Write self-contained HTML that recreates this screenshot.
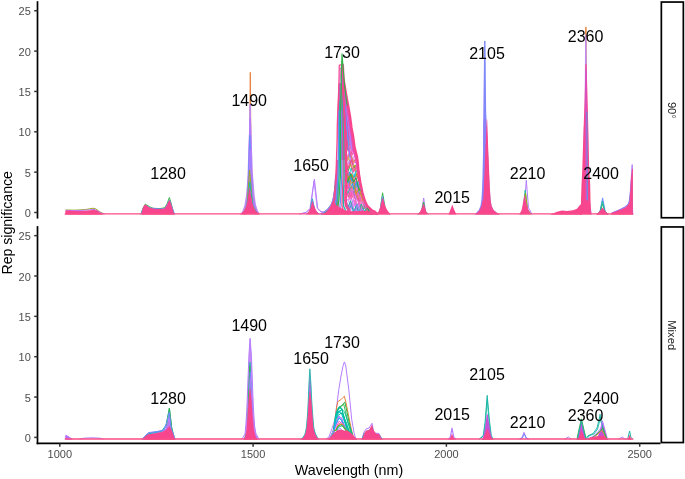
<!DOCTYPE html>
<html><head><meta charset="utf-8"><style>
html,body{margin:0;padding:0;background:#fff;}
svg{display:block;will-change:transform;font-family:"Liberation Sans",sans-serif;}
</style></head><body>
<svg width="685" height="479" viewBox="0 0 685 479">
<rect width="685" height="479" fill="#fff"/>
<path d="M245.00,213.90 L249.20,193.90 L250.30,72.30 L251.30,193.90 L255.00,213.90" fill="none" stroke="#E8823A" stroke-width="1.0" stroke-linejoin="round" stroke-linecap="round"/>
<path d="M240.50,214.00 L242.50,211.00 L244.50,205.00 L246.00,195.00 L246.90,185.00 L247.60,172.00 L248.50,146.00 L249.20,125.00 L250.00,104.30 L250.50,104.30 L251.30,125.00 L251.90,146.00 L252.80,172.00 L253.80,185.00 L254.60,195.00 L256.00,205.00 L258.00,211.00 L260.00,214.00Z" fill="#BE8CF2" stroke="none"/>
<path d="M245.62,213.90 L248.50,194.17 L250.10,104.30 L252.00,194.17 L255.42,213.90" fill="none" stroke="#BE8CF2" stroke-width="1.0" stroke-linejoin="round" stroke-linecap="round"/>
<path d="M244.96,213.90 L248.20,194.72 L250.00,118.00 L252.20,194.72 L256.16,213.90" fill="none" stroke="#B57CFF" stroke-width="1.2" stroke-linejoin="round" stroke-linecap="round"/>
<path d="M244.60,213.90 L247.80,198.12 L249.80,135.00 L252.40,198.12 L256.56,213.90" fill="none" stroke="#6C8CFF" stroke-width="1.0" stroke-linejoin="round" stroke-linecap="round"/>
<path d="M244.06,213.90 L247.90,201.12 L250.30,150.00 L253.10,201.12 L257.58,213.90" fill="none" stroke="#B57CFF" stroke-width="1.0" stroke-linejoin="round" stroke-linecap="round"/>
<path d="M243.35,213.90 L247.10,205.12 L249.60,170.00 L252.60,205.12 L257.10,213.90" fill="none" stroke="#9AA81A" stroke-width="1.0" stroke-linejoin="round" stroke-linecap="round"/>
<path d="M242.80,213.90 L247.00,207.52 L249.80,182.00 L253.00,207.52 L257.80,213.90" fill="none" stroke="#1FB8A8" stroke-width="1.0" stroke-linejoin="round" stroke-linecap="round"/>
<path d="M300.00,213.90 L306.00,212.40 L310.00,208.40 L314.40,179.10 L317.70,208.40 L321.00,211.50 L324.00,212.20 L328.00,209.00 L331.70,203.60" fill="none" stroke="#B57CFF" stroke-width="1.0" stroke-linejoin="round" stroke-linecap="round"/>
<path d="M300.00,213.90 L306.00,212.70 L310.60,208.40 L314.00,181.00 L317.20,208.40 L321.00,212.00 L324.00,212.60 L328.00,210.00 L331.70,205.00" fill="none" stroke="#B57CFF" stroke-width="0.8" stroke-linejoin="round" stroke-linecap="round"/>
<path d="M306.80,213.90 L310.10,210.88 L312.30,198.80 L314.90,210.88 L318.80,213.90" fill="none" stroke="#1FB8A8" stroke-width="1.0" stroke-linejoin="round" stroke-linecap="round"/>
<path d="M307.10,213.90 L310.40,211.22 L312.60,200.50 L315.20,211.22 L319.10,213.90" fill="none" stroke="#6C8CFF" stroke-width="1.0" stroke-linejoin="round" stroke-linecap="round"/>
<path d="M376.88,213.90 L380.00,210.74 L382.60,192.80 L385.60,210.74 L389.20,213.90" fill="none" stroke="#2FB44A" stroke-width="1.0" stroke-linejoin="round" stroke-linecap="round"/>
<path d="M376.78,213.90 L379.90,211.29 L382.50,196.50 L385.50,211.29 L389.10,213.90" fill="none" stroke="#6C8CFF" stroke-width="1.0" stroke-linejoin="round" stroke-linecap="round"/>
<path d="M418.20,213.90 L421.50,211.52 L423.70,198.00 L425.50,211.52 L428.20,213.90" fill="none" stroke="#B57CFF" stroke-width="1.0" stroke-linejoin="round" stroke-linecap="round"/>
<path d="M418.10,213.90 L421.40,212.12 L423.60,202.00 L425.40,212.12 L428.10,213.90" fill="none" stroke="#2FB44A" stroke-width="1.0" stroke-linejoin="round" stroke-linecap="round"/>
<path d="M521.30,213.90 L524.30,207.85 L526.30,180.30 L528.50,207.85 L531.80,213.90" fill="none" stroke="#B57CFF" stroke-width="1.0" stroke-linejoin="round" stroke-linecap="round"/>
<path d="M520.20,213.90 L523.20,209.60 L525.20,190.00 L527.40,209.60 L530.70,213.90" fill="none" stroke="#1FB8A8" stroke-width="1.0" stroke-linejoin="round" stroke-linecap="round"/>
<path d="M520.50,213.90 L523.50,210.14 L525.50,193.00 L527.70,210.14 L531.00,213.90" fill="none" stroke="#9AA81A" stroke-width="1.0" stroke-linejoin="round" stroke-linecap="round"/>
<path d="M582.00,213.90 L585.30,183.90 L585.90,27.00 L586.60,183.90 L590.00,213.90" fill="none" stroke="#E8823A" stroke-width="1.0" stroke-linejoin="round" stroke-linecap="round"/>
<path d="M581.00,213.90 L584.90,183.90 L585.80,35.80 L586.80,183.90 L591.00,213.90" fill="none" stroke="#BE8CF2" stroke-width="1.4" stroke-linejoin="round" stroke-linecap="round"/>
<path d="M580.00,213.90 L582.80,196.00 L583.60,190.00 L584.50,126.00 L585.60,190.00 L588.00,213.90" fill="none" stroke="#6C8CFF" stroke-width="1.2" stroke-linejoin="round" stroke-linecap="round"/>
<path d="M597.60,213.90 L600.10,211.50 L602.60,197.90 L605.20,211.50 L607.80,213.90" fill="none" stroke="#6C8CFF" stroke-width="1.0" stroke-linejoin="round" stroke-linecap="round"/>
<path d="M597.60,213.90 L600.10,212.39 L602.60,203.80 L605.20,212.39 L607.80,213.90" fill="none" stroke="#2FB44A" stroke-width="1.0" stroke-linejoin="round" stroke-linecap="round"/>
<path d="M597.40,213.90 L599.90,211.97 L602.40,201.00 L605.00,211.97 L607.60,213.90" fill="none" stroke="#1FB8A8" stroke-width="1.0" stroke-linejoin="round" stroke-linecap="round"/>
<path d="M612.00,212.90 L618.00,210.40 L624.00,207.40 L628.00,204.40 L629.80,199.90 L631.00,181.90 L632.20,164.60 L632.60,213.90" fill="none" stroke="#B57CFF" stroke-width="1.0" stroke-linejoin="round" stroke-linecap="round"/>
<path d="M612.00,212.90 L620.00,209.90 L626.00,206.90 L629.00,202.90 L630.50,191.90 L632.00,173.90 L632.60,213.90" fill="none" stroke="#6C8CFF" stroke-width="1.0" stroke-linejoin="round" stroke-linecap="round"/>
<path d="M66.00,210.00 L75.00,210.20 L85.00,209.60 L90.00,208.80 L93.00,208.20 L96.00,209.00 L100.00,212.00 L104.00,213.90" fill="none" stroke="#9AA81A" stroke-width="1.0" stroke-linejoin="round" stroke-linecap="round"/>
<path d="M66.00,210.40 L75.00,210.60 L88.00,210.00 L94.00,209.40 L98.00,211.00 L102.00,213.50 L104.00,213.90" fill="none" stroke="#B57CFF" stroke-width="1.0" stroke-linejoin="round" stroke-linecap="round"/>
<path d="M141.00,213.90 L143.00,208.00 L145.30,204.10 L149.00,206.50 L153.00,208.30 L160.00,208.60 L164.50,207.80 L167.00,204.00 L169.40,197.50 L171.00,203.00 L174.00,213.90" fill="none" stroke="#2FB44A" stroke-width="1.0" stroke-linejoin="round" stroke-linecap="round"/>
<path d="M141.00,213.90 L143.00,209.00 L145.50,205.50 L150.00,208.00 L160.00,209.00 L165.00,208.50 L167.50,204.00 L169.60,200.00 L171.50,206.00 L174.50,213.90" fill="none" stroke="#6C8CFF" stroke-width="1.0" stroke-linejoin="round" stroke-linecap="round"/>
<path d="M474.50,214.60 L476.50,212.50 L478.80,210.00 L480.40,206.00 L481.40,200.00 L482.20,187.00 L483.00,154.00 L483.30,113.00 L484.20,41.30 L485.30,41.30 L486.20,113.00 L488.20,154.00 L489.60,187.00 L490.60,200.00 L491.60,206.00 L493.50,210.00 L496.50,212.50 L500.00,214.60Z" fill="#8A80F8" stroke="none"/>
<path d="M484.70,41.30 L484.70,120.00" fill="none" stroke="#7C8CF8" stroke-width="1.2" stroke-linejoin="round" stroke-linecap="round"/>
<path d="M328.00,214.60 L330.00,212.00 L332.00,209.00 L333.50,205.00 L334.50,200.00 L335.20,185.00 L336.40,160.00 L337.10,140.00 L337.30,125.00 L338.00,106.00 L339.00,85.00 L339.20,64.70 L341.90,64.70 L345.50,85.00 L349.50,106.00 L351.80,125.00 L354.00,140.00 L358.00,160.00 L362.00,185.00 L364.00,200.00 L366.00,205.00 L369.00,209.00 L373.00,212.00 L376.00,214.60Z" fill="#FBF4F9" stroke="none"/>
<path d="M345.22,200.56 L348.38,191.90 L351.27,203.71 L354.34,200.13 L356.68,210.83 L359.07,203.02 L362.07,213.90" fill="none" stroke="#F564E3" stroke-width="0.8" stroke-linejoin="round" stroke-linecap="round"/>
<path d="M345.13,197.16 L348.04,208.09 L351.25,198.40 L354.25,206.43 L357.22,197.44 L359.76,207.65 L361.99,200.42 L364.33,208.64 L366.69,205.83 L369.93,213.24 L372.79,211.87 L376.03,213.90" fill="none" stroke="#C77CFF" stroke-width="0.8" stroke-linejoin="round" stroke-linecap="round"/>
<path d="M345.26,183.47 L347.64,178.44 L350.12,189.10 L352.64,185.83 L355.28,198.15 L358.31,191.89 L361.32,200.47 L364.46,200.52 L367.13,209.12 L370.09,209.73 L372.54,213.90" fill="none" stroke="#FF61C3" stroke-width="0.8" stroke-linejoin="round" stroke-linecap="round"/>
<path d="M344.50,138.73 L347.34,129.43 L349.63,137.52 L352.59,134.81 L355.36,151.44 L358.73,174.35 L361.11,187.36 L363.88,198.60 L366.33,211.85 L369.35,209.05 L371.91,213.90" fill="none" stroke="#619CFF" stroke-width="0.8" stroke-linejoin="round" stroke-linecap="round"/>
<path d="M346.32,171.81 L349.44,183.37 L352.04,179.74 L355.42,193.63 L358.60,184.63 L361.42,192.71 L363.66,197.86 L366.69,211.39 L370.01,209.66 L372.65,213.90" fill="none" stroke="#FF61C3" stroke-width="0.8" stroke-linejoin="round" stroke-linecap="round"/>
<path d="M344.91,148.97 L347.68,142.29 L349.99,155.15 L353.12,146.83 L355.54,158.85 L358.70,174.16 L361.38,188.67 L363.79,198.28 L367.07,209.87 L370.26,209.89 L372.88,213.90" fill="none" stroke="#FF61C7" stroke-width="0.8" stroke-linejoin="round" stroke-linecap="round"/>
<path d="M345.95,191.75 L348.78,182.02 L352.03,193.94 L354.53,188.11 L357.44,196.68 L359.79,186.87 L362.54,199.17 L365.25,202.75 L368.09,211.97 L370.81,210.40 L373.97,213.90" fill="none" stroke="#F8468E" stroke-width="0.8" stroke-linejoin="round" stroke-linecap="round"/>
<path d="M345.61,186.49 L348.63,197.15 L351.76,186.64 L354.19,192.73 L356.94,190.71 L359.21,201.41 L362.14,196.35 L364.95,209.02 L367.45,206.98 L370.76,213.90" fill="none" stroke="#6BB100" stroke-width="0.8" stroke-linejoin="round" stroke-linecap="round"/>
<path d="M344.77,194.64 L347.45,189.94 L350.16,197.84 L352.51,190.72 L355.48,199.54 L357.84,194.01 L360.16,206.19 L363.16,202.24 L366.55,211.83 L369.18,208.87 L371.78,213.90" fill="none" stroke="#E84CB8" stroke-width="0.8" stroke-linejoin="round" stroke-linecap="round"/>
<path d="M345.53,162.29 L348.35,171.19 L351.50,160.21 L354.01,168.32 L356.54,164.18 L359.83,180.71 L362.21,192.63 L365.25,202.75 L368.28,207.89 L371.60,213.90" fill="none" stroke="#00B816" stroke-width="0.8" stroke-linejoin="round" stroke-linecap="round"/>
<path d="M344.94,178.18 L348.18,187.87 L351.04,177.69 L353.40,187.60 L355.73,182.12 L358.17,190.72 L361.28,188.21 L363.70,197.99 L366.20,204.78 L369.06,213.03 L372.38,211.68 L375.10,213.90" fill="none" stroke="#F8468E" stroke-width="0.8" stroke-linejoin="round" stroke-linecap="round"/>
<path d="M345.51,162.91 L348.89,158.51 L351.94,169.67 L354.56,165.18 L356.84,176.63 L359.24,177.27 L362.48,193.92 L364.97,202.16 L367.36,211.57 L370.72,210.31 L373.21,213.90" fill="none" stroke="#ADA200" stroke-width="0.8" stroke-linejoin="round" stroke-linecap="round"/>
<path d="M345.17,147.99 L347.94,140.57 L350.75,146.90 L353.05,139.73 L355.28,151.12 L358.18,168.93 L361.17,187.68 L363.84,198.47 L366.22,210.96 L368.47,208.10 L371.42,213.90" fill="none" stroke="#FF61C3" stroke-width="0.8" stroke-linejoin="round" stroke-linecap="round"/>
<path d="M345.55,144.89 L348.74,138.98 L351.76,150.02 L354.00,145.67 L356.32,158.70 L359.28,177.49 L362.06,191.92 L365.16,202.56 L368.15,210.73 L370.65,210.25 L373.73,213.90" fill="none" stroke="#00C0BA" stroke-width="0.8" stroke-linejoin="round" stroke-linecap="round"/>
<path d="M345.27,170.07 L348.56,177.72 L351.52,173.63 L354.12,185.77 L357.06,181.79 L359.84,194.39 L362.30,193.07 L364.85,204.13 L368.24,207.85 L370.54,213.90" fill="none" stroke="#B57CFF" stroke-width="0.8" stroke-linejoin="round" stroke-linecap="round"/>
<path d="M345.51,140.43 L348.91,151.39 L352.22,146.64 L355.32,155.05 L358.24,169.70 L360.58,184.85 L363.83,198.43 L367.17,209.92 L370.24,209.87 L372.59,213.90" fill="none" stroke="#FA62DB" stroke-width="0.8" stroke-linejoin="round" stroke-linecap="round"/>
<path d="M344.74,194.58 L347.80,184.64 L350.44,195.88 L353.35,190.14 L355.88,196.28 L359.08,192.59 L361.58,201.48 L364.01,199.03 L367.27,212.10 L370.57,210.17 L373.63,213.90" fill="none" stroke="#FF61C3" stroke-width="0.8" stroke-linejoin="round" stroke-linecap="round"/>
<path d="M346.01,167.01 L348.79,180.54 L351.19,173.99 L353.70,186.62 L356.39,181.89 L359.39,190.16 L361.68,190.10 L364.54,200.80 L367.65,207.21 L370.14,213.90" fill="none" stroke="#35A2FF" stroke-width="0.8" stroke-linejoin="round" stroke-linecap="round"/>
<path d="M345.02,151.98 L348.28,143.47 L350.98,153.77 L353.58,149.67 L356.95,157.92 L359.90,181.11 L362.43,193.65 L365.16,202.56 L368.41,208.31 L371.46,211.00 L374.36,213.90" fill="none" stroke="#FF61C3" stroke-width="0.8" stroke-linejoin="round" stroke-linecap="round"/>
<path d="M346.15,200.80 L349.52,208.37 L351.90,202.26 L355.23,213.90 L358.35,207.85 L360.60,213.90" fill="none" stroke="#DE70F9" stroke-width="0.8" stroke-linejoin="round" stroke-linecap="round"/>
<path d="M345.11,180.83 L348.06,173.95 L351.18,181.04 L354.51,175.98 L357.66,183.10 L361.05,187.11 L364.26,199.87 L367.12,206.63 L370.10,213.10 L373.36,212.13 L375.83,213.90" fill="none" stroke="#F8468E" stroke-width="0.8" stroke-linejoin="round" stroke-linecap="round"/>
<path d="M345.89,170.00 L348.53,178.29 L351.08,168.08 L353.87,177.28 L356.30,170.32 L359.57,179.20 L362.50,194.01 L365.80,203.92 L369.10,208.79 L372.02,213.90" fill="none" stroke="#00BECE" stroke-width="0.8" stroke-linejoin="round" stroke-linecap="round"/>
<path d="M346.30,162.93 L349.38,178.20 L351.97,175.21 L355.07,182.93 L357.72,176.81 L360.12,183.17 L362.75,194.82 L366.10,204.58 L369.29,208.99 L371.55,213.90" fill="none" stroke="#E84CB8" stroke-width="0.8" stroke-linejoin="round" stroke-linecap="round"/>
<path d="M344.89,200.28 L347.97,211.00 L350.47,203.34 L353.12,213.90 L355.39,208.22 L358.32,213.90 L361.66,211.33 L364.69,213.90" fill="none" stroke="#9590FF" stroke-width="0.8" stroke-linejoin="round" stroke-linecap="round"/>
<path d="M346.33,188.65 L348.56,183.94 L351.91,197.28 L354.41,191.25 L357.73,200.44 L360.81,192.50 L363.74,201.25 L366.37,205.16 L368.81,213.90" fill="none" stroke="#F8468E" stroke-width="0.8" stroke-linejoin="round" stroke-linecap="round"/>
<path d="M344.57,139.60 L346.96,148.40 L349.25,140.15 L351.95,155.49 L354.36,151.44 L357.63,162.79 L360.76,185.71 L363.31,196.70 L365.82,203.96 L368.24,211.96 L371.53,211.06 L374.03,213.90" fill="none" stroke="#FE6E8A" stroke-width="0.8" stroke-linejoin="round" stroke-linecap="round"/>
<path d="M345.81,192.40 L348.13,187.03 L351.34,199.06 L353.89,194.29 L357.26,206.66 L359.90,197.45 L362.42,211.23 L364.74,204.42 L367.20,212.92 L369.65,209.32 L372.63,213.90" fill="none" stroke="#F8468E" stroke-width="0.8" stroke-linejoin="round" stroke-linecap="round"/>
<path d="M345.86,158.23 L348.80,153.28 L351.60,163.39 L354.75,154.71 L357.59,165.97 L360.12,182.37 L362.82,195.06 L366.08,204.53 L369.20,213.90" fill="none" stroke="#EF67EC" stroke-width="0.8" stroke-linejoin="round" stroke-linecap="round"/>
<path d="M344.91,186.69 L347.63,181.43 L349.94,192.07 L353.06,186.82 L355.44,199.15 L358.32,190.38 L360.73,198.80 L363.14,196.12 L366.24,209.58 L368.80,208.46 L372.10,213.90" fill="none" stroke="#B57CFF" stroke-width="0.8" stroke-linejoin="round" stroke-linecap="round"/>
<path d="M344.67,180.18 L347.64,171.55 L350.58,179.84 L353.46,177.86 L355.84,186.33 L359.21,177.11 L362.47,193.86 L365.47,203.23 L368.22,213.90" fill="none" stroke="#F47B5C" stroke-width="0.8" stroke-linejoin="round" stroke-linecap="round"/>
<path d="M345.67,164.83 L348.33,174.41 L350.75,172.84 L353.51,183.33 L356.69,175.40 L359.37,182.45 L362.01,191.65 L365.00,202.20 L368.30,207.91 L370.60,213.90" fill="none" stroke="#F8468E" stroke-width="0.8" stroke-linejoin="round" stroke-linecap="round"/>
<path d="M346.07,181.34 L349.30,172.07 L352.47,181.87 L355.27,173.42 L357.66,187.23 L359.94,182.54 L362.33,195.14 L365.51,203.31 L368.82,211.06 L371.62,211.15 L374.04,213.90" fill="none" stroke="#00BAE0" stroke-width="0.8" stroke-linejoin="round" stroke-linecap="round"/>
<path d="M345.25,158.28 L347.59,169.40 L350.22,160.45 L353.12,172.45 L356.51,164.72 L359.67,179.76 L362.56,194.20 L365.29,203.17 L367.55,207.10 L370.52,213.90" fill="none" stroke="#F8468E" stroke-width="0.8" stroke-linejoin="round" stroke-linecap="round"/>
<path d="M345.13,182.12 L348.22,176.94 L351.17,186.46 L353.43,180.38 L355.68,187.96 L358.25,181.40 L360.94,189.41 L363.58,197.61 L365.80,210.85 L368.54,208.18 L371.54,213.90" fill="none" stroke="#00B0F6" stroke-width="0.8" stroke-linejoin="round" stroke-linecap="round"/>
<path d="M346.14,138.99 L349.06,150.34 L351.88,142.89 L354.08,148.89 L356.50,156.00 L358.83,174.89 L361.26,188.11 L364.23,199.78 L367.17,206.68 L370.12,213.90" fill="none" stroke="#F8468E" stroke-width="0.8" stroke-linejoin="round" stroke-linecap="round"/>
<path d="M345.58,168.93 L348.79,181.04 L351.88,174.06 L354.21,181.30 L356.81,173.64 L360.02,184.92 L362.89,195.29 L365.72,204.58 L369.07,208.75 L371.29,213.90" fill="none" stroke="#D19400" stroke-width="0.8" stroke-linejoin="round" stroke-linecap="round"/>
<path d="M344.82,149.40 L347.25,159.42 L349.90,151.72 L353.28,164.72 L356.05,156.53 L358.28,170.18 L361.54,189.44 L364.44,200.48 L366.68,205.82 L369.08,213.90" fill="none" stroke="#F8468E" stroke-width="0.8" stroke-linejoin="round" stroke-linecap="round"/>
<path d="M344.78,137.19 L347.81,127.73 L350.72,138.23 L353.91,143.64 L357.15,159.35 L359.48,178.65 L361.72,192.52 L364.68,201.26 L367.22,207.75 L370.33,209.95 L373.04,213.90" fill="none" stroke="#A889FF" stroke-width="0.8" stroke-linejoin="round" stroke-linecap="round"/>
<path d="M346.02,138.44 L349.14,149.58 L351.69,142.23 L353.93,151.65 L356.69,156.75 L359.75,180.21 L362.29,193.00 L364.84,203.92 L367.45,206.99 L370.64,213.90" fill="none" stroke="#FF61C3" stroke-width="0.8" stroke-linejoin="round" stroke-linecap="round"/>
<path d="M345.53,202.96 L348.07,199.06 L350.87,207.24 L353.17,199.31 L356.31,210.27 L358.99,205.68 L361.30,213.90" fill="none" stroke="#B983FF" stroke-width="0.8" stroke-linejoin="round" stroke-linecap="round"/>
<path d="M345.36,156.52 L348.01,146.54 L350.76,158.02 L353.87,150.04 L356.46,159.16 L359.45,178.53 L362.18,192.48 L364.53,200.77 L367.02,208.52 L370.06,209.71 L372.45,213.90" fill="none" stroke="#E84CB8" stroke-width="0.8" stroke-linejoin="round" stroke-linecap="round"/>
<path d="M344.82,172.07 L348.17,182.25 L351.56,178.57 L354.00,185.57 L356.56,179.81 L358.89,192.54 L362.15,192.35 L365.38,203.03 L368.76,208.41 L371.26,213.90" fill="none" stroke="#FF62BC" stroke-width="0.8" stroke-linejoin="round" stroke-linecap="round"/>
<path d="M345.36,199.47 L348.58,211.60 L351.83,204.36 L354.30,211.50 L357.02,207.29 L360.30,213.90" fill="none" stroke="#E84CB8" stroke-width="0.8" stroke-linejoin="round" stroke-linecap="round"/>
<path d="M344.81,185.60 L347.59,193.81 L350.41,187.30 L353.69,195.13 L356.89,184.59 L359.39,193.77 L362.73,194.76 L365.95,204.24 L368.72,208.37 L371.36,213.90" fill="none" stroke="#00C1A3" stroke-width="0.8" stroke-linejoin="round" stroke-linecap="round"/>
<path d="M345.87,149.92 L348.69,164.13 L351.62,155.93 L354.28,162.08 L357.58,162.43 L360.48,184.36 L363.16,196.19 L366.55,209.80 L368.95,208.62 L372.10,213.90" fill="none" stroke="#B57CFF" stroke-width="0.8" stroke-linejoin="round" stroke-linecap="round"/>
<path d="M346.13,186.17 L348.75,179.65 L351.93,189.31 L354.79,186.44 L357.42,198.70 L360.07,193.70 L362.49,201.38 L365.03,202.27 L367.80,212.69 L370.79,210.38 L374.02,213.90" fill="none" stroke="#EF7F49" stroke-width="0.8" stroke-linejoin="round" stroke-linecap="round"/>
<path d="M344.78,190.67 L347.74,196.31 L351.08,187.96 L353.40,195.16 L356.54,188.70 L359.82,200.24 L363.09,195.97 L366.09,210.09 L369.30,209.00 L372.14,213.90" fill="none" stroke="#FF61C3" stroke-width="0.8" stroke-linejoin="round" stroke-linecap="round"/>
<path d="M345.61,197.67 L348.31,210.38 L351.18,205.21 L354.22,212.93 L357.14,203.76 L359.73,213.90 L362.28,207.42 L365.68,213.90" fill="none" stroke="#00BCD8" stroke-width="0.8" stroke-linejoin="round" stroke-linecap="round"/>
<path d="M344.56,180.16 L347.58,170.14 L350.95,180.66 L354.23,178.08 L357.18,188.54 L359.82,182.29 L362.95,195.49 L365.65,203.61 L368.20,213.90" fill="none" stroke="#FF61C3" stroke-width="0.8" stroke-linejoin="round" stroke-linecap="round"/>
<path d="M345.04,170.77 L348.41,183.22 L351.01,177.40 L353.91,189.70 L356.16,182.80 L359.02,189.55 L361.22,187.92 L364.15,200.40 L367.45,206.99 L370.40,213.90" fill="none" stroke="#00ACFC" stroke-width="0.8" stroke-linejoin="round" stroke-linecap="round"/>
<path d="M344.58,140.89 L347.53,149.60 L350.77,142.45 L354.09,150.66 L356.46,155.82 L359.69,179.89 L361.91,191.21 L365.21,202.67 L368.40,208.02 L371.44,213.90" fill="none" stroke="#F8468E" stroke-width="0.8" stroke-linejoin="round" stroke-linecap="round"/>
<path d="M345.69,183.28 L348.46,176.20 L351.43,183.64 L353.65,181.16 L356.00,193.68 L359.24,188.34 L362.30,197.73 L364.73,201.43 L367.78,213.90" fill="none" stroke="#D89000" stroke-width="0.8" stroke-linejoin="round" stroke-linecap="round"/>
<path d="M345.61,155.81 L348.37,168.60 L351.72,159.12 L353.94,171.62 L356.24,167.13 L358.64,180.12 L360.91,186.42 L363.64,197.79 L366.79,206.06 L369.75,213.90" fill="none" stroke="#F8468E" stroke-width="0.8" stroke-linejoin="round" stroke-linecap="round"/>
<path d="M346.39,190.82 L348.94,199.67 L351.98,190.37 L354.91,205.21 L357.83,199.84 L361.10,210.03 L364.02,201.68 L366.56,207.98 L369.27,208.97 L372.53,213.90" fill="none" stroke="#FD61D1" stroke-width="0.8" stroke-linejoin="round" stroke-linecap="round"/>
<path d="M346.45,145.44 L349.07,153.19 L352.22,149.54 L355.54,158.50 L358.56,173.32 L361.06,187.15 L363.81,198.37 L366.94,207.24 L370.22,209.85 L372.99,213.90" fill="none" stroke="#F564E3" stroke-width="0.8" stroke-linejoin="round" stroke-linecap="round"/>
<path d="M344.86,148.65 L347.50,159.31 L350.32,153.90 L353.71,162.34 L356.67,156.69 L359.59,179.31 L361.81,190.74 L365.05,202.33 L367.57,207.12 L370.90,213.90" fill="none" stroke="#EA8331" stroke-width="0.8" stroke-linejoin="round" stroke-linecap="round"/>
<path d="M344.58,153.03 L347.97,145.97 L350.21,156.17 L353.00,148.44 L356.23,161.18 L359.28,177.51 L361.76,190.47 L364.57,200.89 L367.21,210.20 L369.62,209.29 L371.89,213.90" fill="none" stroke="#E84CB8" stroke-width="0.8" stroke-linejoin="round" stroke-linecap="round"/>
<path d="M345.02,200.26 L347.28,209.04 L350.61,200.69 L353.52,211.81 L356.11,205.89 L358.89,213.28 L361.26,204.08 L364.32,211.05 L367.63,207.81 L370.87,213.90" fill="none" stroke="#00C08B" stroke-width="0.8" stroke-linejoin="round" stroke-linecap="round"/>
<path d="M346.35,203.01 L349.56,213.90 L352.17,205.07 L355.12,212.24 L357.39,204.40 L359.77,213.90 L362.46,209.12 L365.67,213.90" fill="none" stroke="#B57CFF" stroke-width="0.8" stroke-linejoin="round" stroke-linecap="round"/>
<path d="M345.14,169.86 L347.47,182.38 L350.75,173.84 L353.52,182.11 L355.96,178.04 L359.36,190.31 L361.91,191.18 L364.98,202.17 L367.20,206.72 L369.57,213.90" fill="none" stroke="#00BA38" stroke-width="0.8" stroke-linejoin="round" stroke-linecap="round"/>
<path d="M321.00,214.70 L321.00,213.90 L325.00,211.60 L328.50,208.60 L331.20,205.00 L333.20,199.00 L334.80,188.00 L335.60,175.00 L336.40,160.00 L338.50,160.00 L338.50,214.70Z" fill="#F8468E" stroke="none"/>
<path d="M321.00,213.90 L325.00,211.60 L328.50,208.60 L331.20,205.00 L333.20,199.00 L334.80,188.00 L335.60,175.00" fill="none" stroke="#6C8CFF" stroke-width="1.1" stroke-linejoin="round" stroke-linecap="round"/>
<path d="M322.00,213.90 L326.00,211.20 L329.50,207.50 L332.00,203.50 L334.00,196.00 L335.20,185.00" fill="none" stroke="#1FB8A8" stroke-width="1.1" stroke-linejoin="round" stroke-linecap="round"/>
<path d="M320.00,213.90 L324.50,211.80 L328.00,209.20 L330.60,206.00 L332.60,201.50 L334.30,193.00" fill="none" stroke="#B57CFF" stroke-width="1.0" stroke-linejoin="round" stroke-linecap="round"/>
<path d="M340.50,88.00 L343.00,82.00 L345.20,90.00 L346.60,97.50 L350.00,116.30 L351.50,128.00 L353.00,136.00 L354.50,147.00 L356.00,153.00 L353.50,150.00 L351.00,144.00 L349.00,139.00 L347.50,146.00 L346.50,160.00 L338.00,160.00 L337.30,125.00 L338.00,106.00 L339.00,95.00Z" fill="#F8468E" stroke="none"/>
<path d="M342.50,75.00 L345.00,95.00 L348.50,122.00 L352.00,148.00" fill="none" stroke="#B57CFF" stroke-width="1.1" stroke-linejoin="round" stroke-linecap="round"/>
<path d="M342.50,82.00 L344.50,100.00 L346.50,125.00 L349.00,145.00" fill="none" stroke="#6C8CFF" stroke-width="1.1" stroke-linejoin="round" stroke-linecap="round"/>
<path d="M343.00,75.00 L346.50,100.00 L350.50,128.00 L354.50,152.00" fill="none" stroke="#E84CB8" stroke-width="1.0" stroke-linejoin="round" stroke-linecap="round"/>
<path d="M341.00,75.00 L343.50,108.00 L345.50,135.00 L347.00,150.00" fill="none" stroke="#1FB8A8" stroke-width="1.0" stroke-linejoin="round" stroke-linecap="round"/>
<path d="M341.80,68.00 L346.00,104.00 L349.50,134.00 L351.50,150.00" fill="none" stroke="#B57CFF" stroke-width="1.0" stroke-linejoin="round" stroke-linecap="round"/>
<path d="M341.50,72.00 L345.50,112.00 L348.00,140.00 L350.00,158.00" fill="none" stroke="#6C8CFF" stroke-width="0.9" stroke-linejoin="round" stroke-linecap="round"/>
<path d="M339.00,84.00 L338.00,106.00 L337.30,125.00 L337.10,140.00 L336.00,175.00 L333.80,200.00 L331.20,206.00 L329.00,210.00 L326.00,213.90" fill="none" stroke="#F8468E" stroke-width="1.3" stroke-linejoin="round" stroke-linecap="round"/>
<path d="M339.65,84.00 L339.12,106.00 L338.72,125.00 L338.68,140.00 L337.89,175.00 L336.00,200.00 L334.04,206.00 L332.78,210.00 L329.78,213.90" fill="none" stroke="#6C8CFF" stroke-width="1.3" stroke-linejoin="round" stroke-linecap="round"/>
<path d="M340.08,84.00 L339.86,106.00 L339.67,125.00 L339.74,140.00 L339.15,175.00 L337.46,200.00 L335.94,206.00 L335.30,210.00 L332.30,213.90" fill="none" stroke="#1FB8A8" stroke-width="1.3" stroke-linejoin="round" stroke-linecap="round"/>
<path d="M340.51,84.00 L340.60,106.00 L340.62,125.00 L340.80,140.00 L340.41,175.00 L338.92,200.00 L337.84,206.00 L337.82,210.00 L334.82,213.90" fill="none" stroke="#2FB44A" stroke-width="1.3" stroke-linejoin="round" stroke-linecap="round"/>
<path d="M340.98,84.00 L341.41,106.00 L341.64,125.00 L341.94,140.00 L341.77,175.00 L340.51,200.00 L339.89,206.00 L340.55,210.00 L337.55,213.90" fill="none" stroke="#6C8CFF" stroke-width="1.3" stroke-linejoin="round" stroke-linecap="round"/>
<path d="M341.45,84.00 L342.22,106.00 L342.67,125.00 L343.08,140.00 L343.14,175.00 L342.10,200.00 L341.94,206.00 L343.28,210.00 L340.28,213.90" fill="none" stroke="#F8468E" stroke-width="1.3" stroke-linejoin="round" stroke-linecap="round"/>
<path d="M341.81,84.00 L342.84,106.00 L343.46,125.00 L343.96,140.00 L344.19,175.00 L343.32,200.00 L343.52,206.00 L345.38,210.00 L342.38,213.90" fill="none" stroke="#1FB8A8" stroke-width="1.3" stroke-linejoin="round" stroke-linecap="round"/>
<path d="M342.24,84.00 L343.58,106.00 L344.41,125.00 L345.02,140.00 L345.45,175.00 L344.78,200.00 L345.42,206.00 L347.90,210.00 L344.90,213.90" fill="none" stroke="#F8468E" stroke-width="1.3" stroke-linejoin="round" stroke-linecap="round"/>
<path d="M342.60,84.00 L344.20,106.00 L345.20,125.00 L345.90,140.00 L346.50,175.00 L346.00,200.00 L347.00,206.00 L350.00,210.00 L347.00,213.90" fill="none" stroke="#F8468E" stroke-width="1.3" stroke-linejoin="round" stroke-linecap="round"/>
<path d="M342.00,66.00 L345.50,130.00 L346.50,175.00 L346.00,205.00" fill="none" stroke="#F8468E" stroke-width="1.5" stroke-linejoin="round" stroke-linecap="round"/>
<path d="M341.70,64.70 L342.80,65.00 L343.40,78.80 L346.60,97.50 L350.00,116.30 L351.50,128.00 L353.00,136.00 L354.50,147.00 L356.90,156.60 L357.80,163.00 L358.50,172.00 L360.40,183.00 L362.50,193.00 L364.90,201.00 L367.00,205.50 L369.30,208.00 L372.00,210.50 L374.60,211.70 L377.00,213.90" fill="none" stroke="#F8468E" stroke-width="2.4" stroke-linejoin="round" stroke-linecap="round"/>
<path d="M345.00,98.50 L348.40,117.30 L349.90,129.00 L351.40,137.00 L352.90,148.00 L355.30,157.60 L356.20,164.00" fill="none" stroke="#E84CB8" stroke-width="0.9" stroke-linejoin="round" stroke-linecap="round"/>
<path d="M338.40,110.00 L339.25,65.00 L341.75,65.00 L343.60,82.00 L346.00,98.00" fill="none" stroke="#F8468E" stroke-width="1.2" stroke-linejoin="round" stroke-linecap="round"/>
<path d="M339.80,100.00 L340.20,68.00 L341.30,68.00 L342.80,85.00" fill="none" stroke="#E84CB8" stroke-width="0.9" stroke-linejoin="round" stroke-linecap="round"/>
<path d="M340.80,110.00 L341.40,70.00 L342.00,53.70 L344.50,85.00 L347.00,105.00" fill="none" stroke="#2FB44A" stroke-width="1.1" stroke-linejoin="round" stroke-linecap="round"/>
<path d="M324.00,213.90 L328.00,211.80 L331.00,208.50 L333.00,205.00 L334.50,202.00 L336.00,205.00 L340.00,207.50 L346.00,210.80 L352.00,211.30 L358.00,211.00 L362.00,210.80 L366.00,211.00 L369.50,211.30 L372.50,212.30 L376.00,213.90 L376.00,214.70 L324.00,214.70Z" fill="#F8468E" stroke="none"/>
<path d="M65.30,214.70 L65.30,211.00 L66.00,210.40 L70.00,210.60 L78.00,211.00 L86.00,210.80 L90.00,210.20 L94.00,209.80 L97.00,210.50 L100.00,212.50 L103.00,214.70Z" fill="#F8468E" stroke="none"/>
<path d="M141.30,214.70 L142.50,209.00 L144.00,205.50 L145.30,204.50 L147.00,205.80 L150.00,207.80 L154.00,208.80 L160.00,209.00 L164.50,208.50 L166.50,206.00 L168.20,202.00 L169.40,200.00 L170.60,202.50 L172.50,208.50 L174.30,214.70Z" fill="#F8468E" stroke="none"/>
<path d="M240.00,214.60 L241.50,213.00 L243.80,211.00 L245.60,208.00 L247.00,203.00 L248.20,195.00 L249.30,188.00 L249.70,188.00 L250.90,195.00 L252.40,203.00 L253.90,208.00 L255.80,211.00 L258.30,213.00 L260.00,214.60Z" fill="#F8468E" stroke="none"/>
<path d="M306.50,214.60 L309.00,211.00 L310.80,207.00 L312.30,201.20 L312.60,201.20 L314.40,207.00 L316.50,211.00 L319.00,214.60Z" fill="#F8468E" stroke="none"/>
<path d="M377.00,214.60 L378.80,211.00 L380.30,207.00 L382.40,198.00 L382.70,198.00 L385.60,207.00 L387.80,211.00 L390.50,214.60Z" fill="#F8468E" stroke="none"/>
<path d="M418.30,214.60 L421.50,209.00 L423.50,203.80 L423.80,203.80 L425.30,209.00 L427.50,214.60Z" fill="#F8468E" stroke="none"/>
<path d="M448.50,214.60 L450.30,210.00 L452.10,205.00 L452.40,205.00 L454.30,210.00 L456.50,214.60Z" fill="#F8468E" stroke="none"/>
<path d="M475.50,214.60 L477.50,212.50 L479.80,210.00 L481.50,206.00 L482.60,200.00 L483.80,187.00 L485.20,154.00 L486.80,119.40 L487.20,119.40 L488.40,154.00 L489.80,187.00 L490.60,200.00 L491.60,206.00 L493.50,210.00 L496.50,212.50 L500.00,214.60Z" fill="#F8468E" stroke="none"/>
<path d="M519.50,214.60 L521.60,210.00 L522.80,204.00 L524.30,195.30 L524.60,195.30 L526.60,204.00 L528.50,210.00 L531.00,214.60Z" fill="#F8468E" stroke="none"/>
<path d="M580.00,214.60 L580.50,212.70 L580.80,208.00 L581.00,200.00 L581.50,185.00 L582.30,169.00 L583.20,140.00 L584.60,100.00 L585.50,64.20 L586.60,64.20 L587.60,100.00 L588.60,140.00 L589.20,169.00 L590.20,185.00 L590.50,200.00 L590.80,208.00 L591.20,212.70 L591.60,214.60Z" fill="#F8468E" stroke="none"/>
<path d="M550.00,214.70 L557.00,211.80 L562.00,210.60 L567.00,210.90 L573.00,210.20 L577.00,208.80 L579.50,205.50 L581.20,204.00 L582.00,214.70Z" fill="#F8468E" stroke="none"/>
<path d="M596.00,214.70 L599.00,212.00 L602.60,207.50 L606.00,212.00 L609.00,214.70Z" fill="#F8468E" stroke="none"/>
<path d="M610.00,214.70 L612.00,212.80 L618.00,210.50 L622.00,209.00 L625.60,207.30 L628.00,205.00 L629.40,202.20 L630.30,190.00 L631.00,178.00 L632.00,169.00 L632.90,169.00 L632.90,214.70Z" fill="#F8468E" stroke="none"/>
<path d="M585.90,70.00 L586.00,140.00 L586.30,200.00" fill="none" stroke="#C45AE6" stroke-width="1.0" stroke-linejoin="round" stroke-linecap="round"/>
<path d="M586.90,112.00 L587.10,150.00 L587.40,200.00" fill="none" stroke="#4C9BF0" stroke-width="0.9" stroke-linejoin="round" stroke-linecap="round"/>
<path d="M484.00,120.00 L483.80,170.00 L482.80,200.00" fill="none" stroke="#8A80F8" stroke-width="1.0" stroke-linejoin="round" stroke-linecap="round"/>
<path d="M65.30,213.90 L632.80,213.90" fill="none" stroke="#FB4C84" stroke-width="1.4" stroke-linejoin="round" stroke-linecap="round"/>
<path d="M65.30,439.80 L65.30,436.20 L66.00,435.00 L68.00,436.30 L70.00,437.80 L72.30,439.80Z" fill="#B070F5" stroke="none"/>
<path d="M65.30,437.00 L66.00,435.30 L68.00,436.50 L72.30,439.00" fill="none" stroke="#B57CFF" stroke-width="1.0" stroke-linejoin="round" stroke-linecap="round"/>
<path d="M80.00,439.00 L84.00,438.20 L92.00,437.80 L100.00,438.20 L103.00,439.00" fill="none" stroke="#B57CFF" stroke-width="1.0" stroke-linejoin="round" stroke-linecap="round"/>
<path d="M142.90,439.80 L146.00,435.50 L148.30,433.40 L155.00,432.40 L162.00,431.00 L165.50,428.50 L167.50,423.00 L169.40,416.00 L171.00,424.00 L173.00,433.00 L174.80,439.80Z" fill="#B77AF2" stroke="none"/>
<path d="M142.50,439.00 L145.00,436.00 L148.30,433.00 L155.00,432.00 L162.00,430.50 L166.00,427.00 L169.40,415.30 L171.50,428.00 L174.80,439.00" fill="none" stroke="#B57CFF" stroke-width="1.0" stroke-linejoin="round" stroke-linecap="round"/>
<path d="M142.50,439.00 L145.00,436.50 L148.30,434.00 L155.00,432.50 L162.00,431.00 L166.00,425.00 L169.40,408.20 L171.50,427.00 L174.80,439.00" fill="none" stroke="#1FB8A8" stroke-width="1.0" stroke-linejoin="round" stroke-linecap="round"/>
<path d="M166.50,425.00 L169.40,408.20 L172.00,430.00" fill="none" stroke="#2FB44A" stroke-width="1.0" stroke-linejoin="round" stroke-linecap="round"/>
<path d="M142.50,439.00 L146.00,435.00 L149.00,432.50 L158.00,431.50 L164.00,430.00 L167.00,422.00 L169.30,412.00 L171.50,430.00 L174.80,439.00" fill="none" stroke="#6C8CFF" stroke-width="1.0" stroke-linejoin="round" stroke-linecap="round"/>
<path d="M243.50,439.80 L245.00,434.00 L245.80,426.00 L246.80,410.00 L247.60,390.00 L248.50,366.00 L249.00,354.00 L249.90,338.40 L250.40,338.40 L251.30,354.00 L251.80,366.00 L252.70,390.00 L253.50,410.00 L254.60,426.00 L256.00,434.00 L258.50,439.80Z" fill="#C98EF2" stroke="none"/>
<path d="M242.00,439.00 L245.00,434.00 L245.80,426.00 L246.80,410.00 L247.60,390.00 L248.50,366.00 L249.00,354.00 L250.10,338.40 L251.30,354.00 L251.80,366.00 L252.70,390.00 L253.50,410.00 L254.60,426.00 L256.00,434.00 L259.00,439.00" fill="none" stroke="#B57CFF" stroke-width="1.0" stroke-linejoin="round" stroke-linecap="round"/>
<path d="M245.20,439.00 L248.00,429.81 L250.00,362.40 L252.30,429.81 L255.52,439.00" fill="none" stroke="#1FB8A8" stroke-width="1.0" stroke-linejoin="round" stroke-linecap="round"/>
<path d="M244.66,439.00 L247.60,430.24 L249.70,366.00 L252.10,430.24 L255.46,439.00" fill="none" stroke="#2FB44A" stroke-width="1.0" stroke-linejoin="round" stroke-linecap="round"/>
<path d="M245.02,439.00 L248.10,430.96 L250.30,372.00 L253.10,430.96 L257.02,439.00" fill="none" stroke="#6C8CFF" stroke-width="1.0" stroke-linejoin="round" stroke-linecap="round"/>
<path d="M244.88,439.00 L248.10,431.68 L250.40,378.00 L253.40,431.68 L257.60,439.00" fill="none" stroke="#B57CFF" stroke-width="1.0" stroke-linejoin="round" stroke-linecap="round"/>
<path d="M301.00,439.80 L303.00,437.50 L305.00,434.00 L306.30,428.00 L307.50,415.00 L308.30,400.00 L308.90,385.00 L309.70,369.40 L310.10,369.40 L311.00,385.00 L311.70,400.00 L312.70,415.00 L313.80,428.00 L315.50,434.00 L317.50,437.50 L319.00,439.80Z" fill="#B86CE8" stroke="none"/>
<path d="M301.00,439.00 L303.00,437.50 L305.00,434.00 L306.30,428.00 L307.50,415.00 L308.30,400.00 L308.90,385.00 L309.80,368.80 L311.00,385.00 L311.70,400.00 L312.70,415.00 L313.80,428.00 L315.50,434.00 L317.50,437.50 L319.00,439.00" fill="none" stroke="#1FB8A8" stroke-width="0.9" stroke-linejoin="round" stroke-linecap="round"/>
<path d="M326.00,439.00 L329.00,437.00 L332.00,428.50 L335.00,419.40 L337.00,404.00 L338.80,389.70 L341.00,376.00 L343.00,366.00 L344.40,361.90 L345.80,366.00 L347.20,377.00 L348.80,389.70 L350.30,405.00 L351.70,419.40 L354.00,432.50 L355.70,438.50 L357.00,439.00" fill="none" stroke="#B57CFF" stroke-width="1.0" stroke-linejoin="round" stroke-linecap="round"/>
<path d="M330.00,439.00 L333.00,432.00 L335.00,420.00 L336.50,408.00 L337.90,401.60 L341.00,399.50 L343.00,397.50 L344.40,396.20 L346.50,405.00 L349.00,418.00 L351.50,430.00 L353.70,438.00 L355.00,439.00" fill="none" stroke="#E8823A" stroke-width="1.0" stroke-linejoin="round" stroke-linecap="round"/>
<path d="M330.00,439.00 L333.00,433.00 L335.50,420.00 L337.50,410.00 L340.00,407.00 L342.50,405.00 L344.80,402.00 L347.00,412.00 L349.50,424.00 L352.50,436.00 L355.00,439.00" fill="none" stroke="#2FB44A" stroke-width="1.0" stroke-linejoin="round" stroke-linecap="round"/>
<path d="M330.50,439.00 L333.50,432.00 L335.80,419.00 L337.80,409.00 L340.00,406.50 L342.00,405.50 L343.80,404.50 L346.00,414.00 L349.00,426.00 L352.00,437.00 L354.50,439.00" fill="none" stroke="#2FB44A" stroke-width="0.9" stroke-linejoin="round" stroke-linecap="round"/>
<path d="M330.82,439.00 L333.50,433.00 L335.52,414.84 L338.00,408.55 L339.34,406.55 L341.84,408.35 L344.61,421.15 L348.20,432.51 L353.93,439.00" fill="none" stroke="#00C095" stroke-width="1.0" stroke-linejoin="round" stroke-linecap="round"/>
<path d="M329.17,439.00 L333.50,432.80 L335.91,416.31 L338.00,410.32 L339.39,408.32 L341.89,408.98 L344.93,422.13 L348.30,432.86 L353.53,439.00" fill="none" stroke="#00C1A9" stroke-width="1.0" stroke-linejoin="round" stroke-linecap="round"/>
<path d="M329.40,439.00 L333.50,432.60 L335.37,418.65 L338.00,411.72 L342.15,409.72 L344.65,411.98 L347.97,422.89 L352.10,433.14 L352.14,439.00" fill="none" stroke="#00C19F" stroke-width="1.0" stroke-linejoin="round" stroke-linecap="round"/>
<path d="M330.73,439.00 L333.50,432.40 L335.79,417.38 L338.00,413.32 L340.01,411.32 L342.51,414.42 L346.83,423.78 L349.46,433.46 L354.18,439.00" fill="none" stroke="#00C0BC" stroke-width="1.0" stroke-linejoin="round" stroke-linecap="round"/>
<path d="M329.73,439.00 L333.50,432.20 L335.46,419.12 L338.00,413.63 L339.34,411.63 L341.84,414.69 L345.53,423.95 L347.85,433.53 L353.30,439.00" fill="none" stroke="#00BECD" stroke-width="1.0" stroke-linejoin="round" stroke-linecap="round"/>
<path d="M330.43,439.00 L333.50,432.00 L336.12,422.85 L338.00,415.39 L340.82,413.39 L343.32,414.18 L346.46,424.92 L350.74,433.88 L352.95,439.00" fill="none" stroke="#00C08B" stroke-width="1.0" stroke-linejoin="round" stroke-linecap="round"/>
<path d="M330.91,439.00 L333.50,431.80 L335.79,423.46 L338.00,417.40 L338.78,415.40 L341.28,418.60 L344.84,426.02 L348.35,434.28 L352.05,439.00" fill="none" stroke="#7A97FF" stroke-width="1.0" stroke-linejoin="round" stroke-linecap="round"/>
<path d="M329.21,439.00 L333.50,431.60 L335.55,426.50 L338.00,419.23 L339.51,417.23 L342.01,418.22 L344.57,427.03 L348.20,434.65 L353.75,439.00" fill="none" stroke="#BB81FF" stroke-width="1.0" stroke-linejoin="round" stroke-linecap="round"/>
<path d="M330.15,439.00 L333.50,431.40 L335.82,425.90 L338.00,419.09 L338.58,417.09 L341.08,419.41 L343.79,426.95 L348.82,434.62 L353.79,439.00" fill="none" stroke="#E36EF6" stroke-width="1.0" stroke-linejoin="round" stroke-linecap="round"/>
<path d="M330.00,439.00 L333.50,431.20 L335.58,424.68 L338.00,420.19 L339.05,418.19 L341.55,420.17 L344.87,427.55 L347.83,434.84 L353.48,439.00" fill="none" stroke="#00B1F5" stroke-width="1.0" stroke-linejoin="round" stroke-linecap="round"/>
<path d="M330.49,439.00 L333.50,431.00 L335.46,430.53 L338.00,423.22 L339.16,421.22 L341.66,423.46 L346.04,429.22 L348.44,435.44 L353.05,439.00" fill="none" stroke="#FF61CC" stroke-width="1.0" stroke-linejoin="round" stroke-linecap="round"/>
<path d="M330.88,439.00 L333.50,430.80 L336.08,429.93 L338.00,424.58 L340.87,422.58 L343.37,424.25 L346.35,429.97 L350.04,435.72 L353.09,439.00" fill="none" stroke="#FF62BA" stroke-width="1.0" stroke-linejoin="round" stroke-linecap="round"/>
<path d="M330.63,439.00 L333.50,430.60 L336.15,430.48 L338.00,426.26 L342.12,424.26 L344.62,427.58 L348.15,430.89 L352.54,436.05 L354.34,439.00" fill="none" stroke="#DE8C00" stroke-width="1.0" stroke-linejoin="round" stroke-linecap="round"/>
<path d="M329.73,439.00 L333.50,430.40 L335.83,430.48 L338.00,426.20 L340.40,424.20 L342.90,426.62 L346.27,430.86 L349.91,436.04 L352.05,439.00" fill="none" stroke="#49B500" stroke-width="1.0" stroke-linejoin="round" stroke-linecap="round"/>
<path d="M330.87,439.00 L333.50,430.20 L335.93,434.62 L338.00,427.38 L342.86,425.38 L345.36,428.26 L349.63,431.51 L353.13,436.28 L352.09,439.00" fill="none" stroke="#00C0B3" stroke-width="1.0" stroke-linejoin="round" stroke-linecap="round"/>
<path d="M329.55,439.00 L333.50,430.00 L335.84,437.48 L338.00,429.78 L339.70,427.78 L342.20,430.35 L345.94,432.83 L348.70,436.76 L353.30,439.00" fill="none" stroke="#9F8CFF" stroke-width="1.0" stroke-linejoin="round" stroke-linecap="round"/>
<path d="M362.00,439.00 L364.00,432.00 L366.00,429.00 L369.00,428.00 L372.00,423.30 L374.00,433.00 L379.00,433.50 L382.00,439.00" fill="none" stroke="#B57CFF" stroke-width="1.0" stroke-linejoin="round" stroke-linecap="round"/>
<path d="M362.00,439.00 L364.50,433.00 L367.00,431.00 L370.00,430.00 L372.00,427.00 L374.00,434.00 L379.00,435.00 L382.00,439.00" fill="none" stroke="#1FB8A8" stroke-width="1.0" stroke-linejoin="round" stroke-linecap="round"/>
<path d="M448.60,439.00 L450.30,437.38 L452.00,428.20 L453.80,437.38 L455.60,439.00" fill="none" stroke="#B57CFF" stroke-width="1.2" stroke-linejoin="round" stroke-linecap="round"/>
<path d="M479.30,439.00 L483.20,435.60 L485.00,422.60 L485.90,411.70 L487.20,395.40 L488.60,411.70 L489.70,422.60 L491.30,435.60 L493.00,439.00" fill="none" stroke="#1FB8A8" stroke-width="1.0" stroke-linejoin="round" stroke-linecap="round"/>
<path d="M480.00,439.00 L483.80,435.60 L485.50,422.60 L486.30,411.70 L487.30,399.00 L488.20,411.70 L489.20,422.60 L490.80,435.60 L492.50,439.00" fill="none" stroke="#1FB8A8" stroke-width="0.9" stroke-linejoin="round" stroke-linecap="round"/>
<path d="M482.00,439.80 L484.00,434.00 L485.00,428.00 L486.00,420.00 L486.90,413.90 L487.60,413.90 L488.60,420.00 L489.80,428.00 L490.80,434.00 L492.60,439.80Z" fill="#C452D8" stroke="none"/>
<path d="M520.00,439.00 L522.00,437.68 L524.00,432.40 L526.00,437.68 L528.00,439.00" fill="none" stroke="#B57CFF" stroke-width="1.1" stroke-linejoin="round" stroke-linecap="round"/>
<path d="M520.30,439.00 L522.30,438.00 L524.30,434.00 L526.30,438.00 L528.30,439.00" fill="none" stroke="#6C8CFF" stroke-width="1.0" stroke-linejoin="round" stroke-linecap="round"/>
<path d="M577.00,439.80 L578.20,434.00 L579.30,428.00 L581.20,419.00 L581.70,419.00 L583.50,428.00 L585.00,434.00 L586.40,439.80Z" fill="#C452D8" stroke="none"/>
<path d="M577.00,439.00 L579.30,428.00 L581.40,418.90 L583.50,428.00 L586.20,439.00" fill="none" stroke="#2FB44A" stroke-width="1.0" stroke-linejoin="round" stroke-linecap="round"/>
<path d="M577.50,439.00 L579.60,429.00 L581.30,421.00 L583.20,429.00 L585.80,439.00" fill="none" stroke="#1FB8A8" stroke-width="0.9" stroke-linejoin="round" stroke-linecap="round"/>
<path d="M596.00,439.80 L598.80,434.00 L600.60,428.00 L602.20,420.80 L602.60,420.80 L604.50,428.00 L606.20,434.00 L607.60,439.80Z" fill="#C452D8" stroke="none"/>
<path d="M586.00,439.00 L587.70,435.90 L593.10,433.50 L597.00,428.00 L598.90,420.40 L600.10,414.30 L600.90,420.40 L603.20,430.50 L605.50,437.40 L606.50,439.00" fill="none" stroke="#1FB8A8" stroke-width="1.0" stroke-linejoin="round" stroke-linecap="round"/>
<path d="M587.00,439.00 L589.00,435.90 L594.00,434.00 L597.60,429.00 L599.40,422.00 L600.40,417.00 L601.20,422.00 L603.60,431.00 L605.80,437.60 L606.80,439.00" fill="none" stroke="#1FB8A8" stroke-width="0.9" stroke-linejoin="round" stroke-linecap="round"/>
<path d="M588.00,439.00 L593.00,436.50 L598.00,432.00 L600.90,428.10 L602.40,420.80 L605.10,430.50 L607.00,437.40 L608.00,439.00" fill="none" stroke="#B57CFF" stroke-width="1.0" stroke-linejoin="round" stroke-linecap="round"/>
<path d="M592.00,439.00 L598.00,434.00 L601.60,429.70 L604.00,434.00 L606.50,439.00" fill="none" stroke="#E8823A" stroke-width="1.0" stroke-linejoin="round" stroke-linecap="round"/>
<path d="M590.00,439.00 L596.00,435.00 L600.00,431.00 L603.00,428.00 L605.00,434.00 L607.00,439.00" fill="none" stroke="#2FB44A" stroke-width="0.9" stroke-linejoin="round" stroke-linecap="round"/>
<path d="M626.60,439.00 L628.10,437.40 L629.60,431.00 L631.00,437.40 L632.40,439.00" fill="none" stroke="#1FB8A8" stroke-width="1.0" stroke-linejoin="round" stroke-linecap="round"/>
<path d="M565.00,439.00 L568.50,437.00 L571.00,439.00" fill="none" stroke="#B57CFF" stroke-width="1.0" stroke-linejoin="round" stroke-linecap="round"/>
<path d="M619.00,439.00 L622.30,437.00 L625.00,439.00" fill="none" stroke="#B57CFF" stroke-width="1.0" stroke-linejoin="round" stroke-linecap="round"/>
<path d="M142.90,439.80 L145.00,436.50 L148.30,434.20 L155.00,433.50 L162.00,432.00 L166.00,430.00 L168.50,427.00 L169.40,426.20 L171.00,428.50 L173.50,435.00 L175.00,439.80Z" fill="#F8468E" stroke="none"/>
<path d="M244.00,439.80 L245.50,436.00 L246.50,430.00 L247.60,415.00 L248.60,400.00 L249.60,388.80 L250.40,388.80 L251.60,400.00 L252.60,415.00 L254.00,430.00 L255.50,436.00 L257.50,439.80Z" fill="#F8468E" stroke="none"/>
<path d="M301.50,439.80 L303.50,437.50 L305.40,434.00 L306.70,428.00 L307.80,415.00 L308.70,400.00 L309.70,392.00 L310.10,392.00 L311.30,400.00 L312.40,415.00 L313.40,428.00 L315.00,434.00 L317.00,437.50 L318.50,439.80Z" fill="#F8468E" stroke="none"/>
<path d="M327.00,439.80 L331.00,436.50 L334.00,433.00 L337.00,430.50 L340.00,429.60 L344.00,430.50 L348.00,431.00 L351.00,433.00 L354.00,436.00 L357.00,439.80Z" fill="#F8468E" stroke="none"/>
<path d="M362.00,439.80 L364.00,434.00 L366.00,430.50 L369.00,430.00 L371.00,426.50 L372.00,424.50 L373.50,430.00 L376.00,433.50 L379.00,434.00 L381.90,439.80Z" fill="#F8468E" stroke="none"/>
<path d="M449.50,439.80 L451.90,434.00 L452.20,434.00 L454.50,439.80Z" fill="#F8468E" stroke="none"/>
<path d="M482.50,439.80 L484.00,437.00 L485.30,434.00 L486.60,429.50 L487.80,429.50 L489.60,434.00 L491.00,437.00 L492.50,439.80Z" fill="#F8468E" stroke="none"/>
<path d="M578.00,439.80 L579.80,435.00 L581.00,431.00 L581.90,431.00 L583.30,435.00 L585.60,439.80Z" fill="#F8468E" stroke="none"/>
<path d="M586.00,439.80 L590.00,437.40 L595.00,436.60 L599.00,436.00 L602.00,435.40 L605.00,436.20 L607.50,439.80Z" fill="#F8468E" stroke="none"/>
<path d="M627.50,439.80 L629.50,435.00 L629.80,435.00 L631.50,439.80Z" fill="#F8468E" stroke="none"/>
<path d="M65.30,439.00 L632.80,439.00" fill="none" stroke="#FB4C84" stroke-width="1.4" stroke-linejoin="round" stroke-linecap="round"/>
<line x1="37.5" y1="1.2" x2="37.5" y2="218.6" stroke="#000" stroke-width="1.7"/>
<line x1="34.2" y1="212.50" x2="37.5" y2="212.50" stroke="#333" stroke-width="1.5"/>
<text x="30.8" y="217.04" text-anchor="end" font-size="11.0" fill="#4d4d4d">0</text>
<line x1="34.2" y1="172.15" x2="37.5" y2="172.15" stroke="#333" stroke-width="1.5"/>
<text x="30.8" y="176.69" text-anchor="end" font-size="11.0" fill="#4d4d4d">5</text>
<line x1="34.2" y1="131.80" x2="37.5" y2="131.80" stroke="#333" stroke-width="1.5"/>
<text x="30.8" y="136.34" text-anchor="end" font-size="11.0" fill="#4d4d4d">10</text>
<line x1="34.2" y1="91.45" x2="37.5" y2="91.45" stroke="#333" stroke-width="1.5"/>
<text x="30.8" y="95.99" text-anchor="end" font-size="11.0" fill="#4d4d4d">15</text>
<line x1="34.2" y1="51.10" x2="37.5" y2="51.10" stroke="#333" stroke-width="1.5"/>
<text x="30.8" y="55.64" text-anchor="end" font-size="11.0" fill="#4d4d4d">20</text>
<line x1="34.2" y1="10.75" x2="37.5" y2="10.75" stroke="#333" stroke-width="1.5"/>
<text x="30.8" y="15.29" text-anchor="end" font-size="11.0" fill="#4d4d4d">25</text>
<line x1="37.5" y1="226.1" x2="37.5" y2="444.25" stroke="#000" stroke-width="1.7"/>
<line x1="34.2" y1="437.40" x2="37.5" y2="437.40" stroke="#333" stroke-width="1.5"/>
<text x="30.8" y="441.94" text-anchor="end" font-size="11.0" fill="#4d4d4d">0</text>
<line x1="34.2" y1="397.05" x2="37.5" y2="397.05" stroke="#333" stroke-width="1.5"/>
<text x="30.8" y="401.59" text-anchor="end" font-size="11.0" fill="#4d4d4d">5</text>
<line x1="34.2" y1="356.70" x2="37.5" y2="356.70" stroke="#333" stroke-width="1.5"/>
<text x="30.8" y="361.24" text-anchor="end" font-size="11.0" fill="#4d4d4d">10</text>
<line x1="34.2" y1="316.35" x2="37.5" y2="316.35" stroke="#333" stroke-width="1.5"/>
<text x="30.8" y="320.89" text-anchor="end" font-size="11.0" fill="#4d4d4d">15</text>
<line x1="34.2" y1="276.00" x2="37.5" y2="276.00" stroke="#333" stroke-width="1.5"/>
<text x="30.8" y="280.54" text-anchor="end" font-size="11.0" fill="#4d4d4d">20</text>
<line x1="34.2" y1="235.65" x2="37.5" y2="235.65" stroke="#333" stroke-width="1.5"/>
<text x="30.8" y="240.19" text-anchor="end" font-size="11.0" fill="#4d4d4d">25</text>
<line x1="36.65" y1="443.4" x2="660.5" y2="443.4" stroke="#000" stroke-width="1.7"/>
<line x1="59.80" y1="443.4" x2="59.80" y2="446.7" stroke="#333" stroke-width="1.5"/>
<text x="59.80" y="458.48" text-anchor="middle" font-size="11.0" fill="#4d4d4d">1000</text>
<line x1="253.10" y1="443.4" x2="253.10" y2="446.7" stroke="#333" stroke-width="1.5"/>
<text x="253.10" y="458.48" text-anchor="middle" font-size="11.0" fill="#4d4d4d">1500</text>
<line x1="446.40" y1="443.4" x2="446.40" y2="446.7" stroke="#333" stroke-width="1.5"/>
<text x="446.40" y="458.48" text-anchor="middle" font-size="11.0" fill="#4d4d4d">2000</text>
<line x1="639.70" y1="443.4" x2="639.70" y2="446.7" stroke="#333" stroke-width="1.5"/>
<text x="639.70" y="458.48" text-anchor="middle" font-size="11.0" fill="#4d4d4d">2500</text>
<text x="349" y="474.8" text-anchor="middle" font-size="14.3" fill="#000">Wavelength (nm)</text>
<text transform="translate(11.7,222.8) rotate(-90)" text-anchor="middle" font-size="14.1" fill="#000">Rep significance</text>
<rect x="661.35" y="2.05" width="22.000000000000046" height="215.70000000000002" fill="#fff" stroke="#000" stroke-width="1.7"/>
<text transform="translate(668.0,110.35) rotate(90)" text-anchor="middle" font-size="11.2" fill="#1a1a1a">90°</text>
<rect x="661.35" y="226.95" width="22.000000000000046" height="215.6" fill="#fff" stroke="#000" stroke-width="1.7"/>
<text transform="translate(668.0,335.20) rotate(90)" text-anchor="middle" font-size="11.2" fill="#1a1a1a">Mixed</text>
<text x="168.05" y="179.36" text-anchor="middle" font-size="16.0" fill="#000">1280</text>
<text x="249.23" y="105.96" text-anchor="middle" font-size="16.0" fill="#000">1490</text>
<text x="311.09" y="171.46" text-anchor="middle" font-size="16.0" fill="#000">1650</text>
<text x="342.02" y="57.96" text-anchor="middle" font-size="16.0" fill="#000">1730</text>
<text x="452.20" y="203.36" text-anchor="middle" font-size="16.0" fill="#000">2015</text>
<text x="486.99" y="58.66" text-anchor="middle" font-size="16.0" fill="#000">2105</text>
<text x="527.59" y="179.26" text-anchor="middle" font-size="16.0" fill="#000">2210</text>
<text x="585.58" y="42.26" text-anchor="middle" font-size="16.0" fill="#000">2360</text>
<text x="601.04" y="179.26" text-anchor="middle" font-size="16.0" fill="#000">2400</text>
<text x="168.05" y="404.16" text-anchor="middle" font-size="16.0" fill="#000">1280</text>
<text x="249.23" y="330.76" text-anchor="middle" font-size="16.0" fill="#000">1490</text>
<text x="311.09" y="363.96" text-anchor="middle" font-size="16.0" fill="#000">1650</text>
<text x="342.02" y="347.96" text-anchor="middle" font-size="16.0" fill="#000">1730</text>
<text x="452.20" y="419.86" text-anchor="middle" font-size="16.0" fill="#000">2015</text>
<text x="486.99" y="379.96" text-anchor="middle" font-size="16.0" fill="#000">2105</text>
<text x="527.59" y="428.36" text-anchor="middle" font-size="16.0" fill="#000">2210</text>
<text x="585.58" y="420.56" text-anchor="middle" font-size="16.0" fill="#000">2360</text>
<text x="601.04" y="404.46" text-anchor="middle" font-size="16.0" fill="#000">2400</text>
</svg>
</body></html>
